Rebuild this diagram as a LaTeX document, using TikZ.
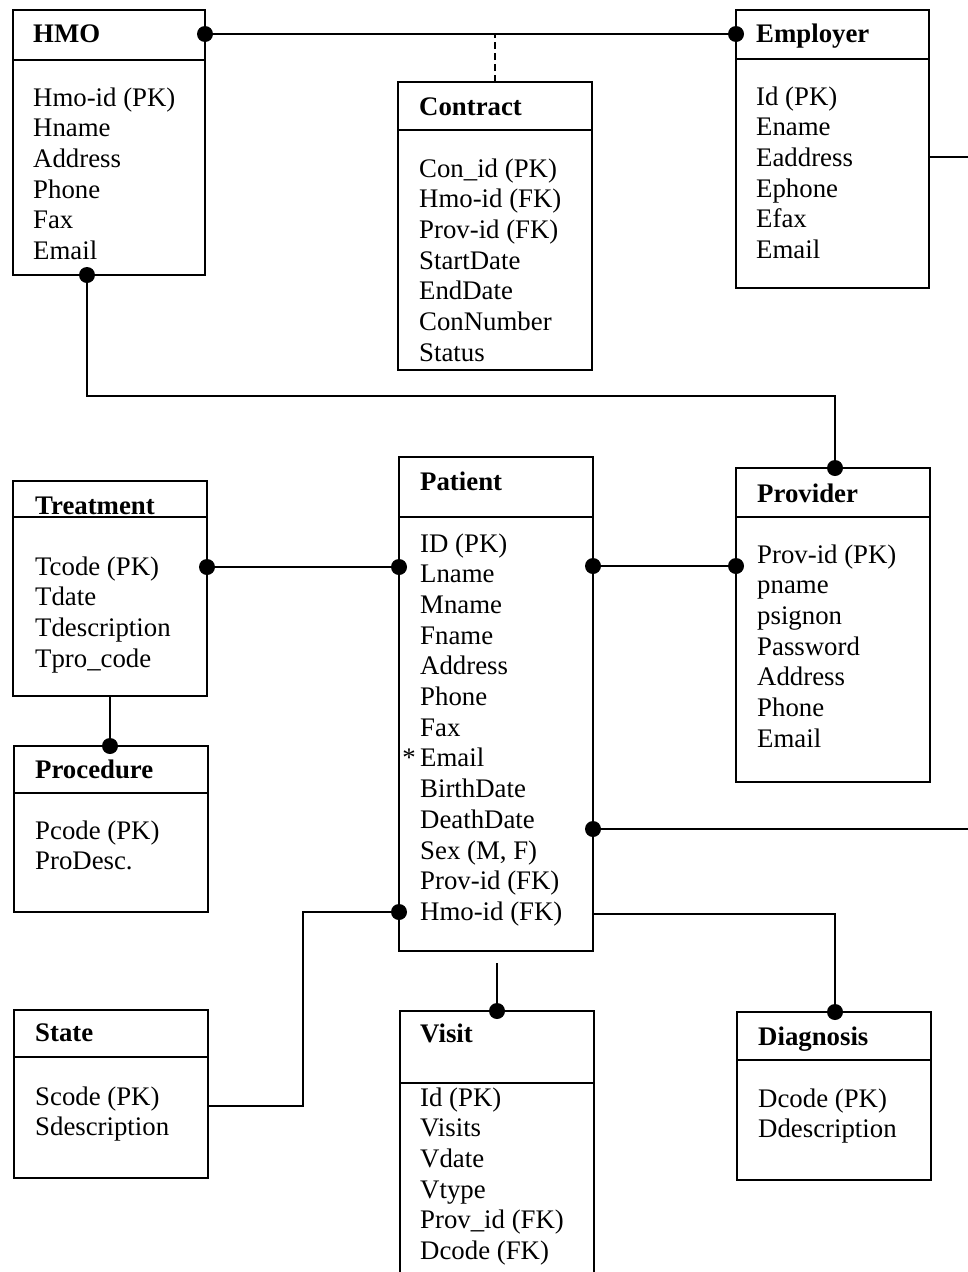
\documentclass[tikz,border=0pt]{standalone}
\usepackage{fontspec}
\setmainfont{Liberation Serif}
\begin{document}
\begin{tikzpicture}[x=1pt,y=-1pt,
  box/.style={draw, line width=1.5pt, anchor=north west, inner sep=0pt, outer sep=0pt},
  ttl/.style={anchor=base west, inner sep=0pt, font=\fontsize{26.8}{30}\selectfont\bfseries},
  attr/.style={anchor=base west, inner sep=0pt, font=\fontsize{26.8}{30}\selectfont},
  link/.style={line width=1.5pt},
  dot/.style={fill=black},
  sepline/.style={line width=1.5pt}]

\clip (0,0) rectangle (968,1272);
\fill[white] (0,0) rectangle (968,1272);

% one line per attribute, fixed pitch
\newcommand\attrlist[4]{%
  \foreach \t [count=\i] in {#4}
    \node[attr] (#1-\i) at ({#2}, {#3+(\i-1)*30.7}) {\t};}

% ---------- HMO ----------
\node[box, minimum width=192pt, minimum height=265pt] (hmo) at (13,10) {};
\draw[sepline] ([yshift=-50pt]hmo.north west) -- ([yshift=-50pt]hmo.north east);
\node[ttl] (hmo-t) at (33,42) {HMO};
\attrlist{hmo}{33}{106}{Hmo-id (PK), Hname, Address, Phone, Fax, Email}

% ---------- Contract ----------
\node[box, minimum width=194pt, minimum height=288pt] (contract) at (398,82) {};
\draw[sepline] ([yshift=-48pt]contract.north west) -- ([yshift=-48pt]contract.north east);
\node[ttl] (contract-t) at (419,115) {Contract};
\attrlist{contract}{419}{177}{Con\_id (PK), Hmo-id (FK), Prov-id (FK), StartDate, EndDate, ConNumber, Status}

% ---------- Employer ----------
\node[box, minimum width=193pt, minimum height=278pt] (employer) at (736,10) {};
\draw[sepline] ([yshift=-49pt]employer.north west) -- ([yshift=-49pt]employer.north east);
\node[ttl] (employer-t) at (756,42) {Employer};
\attrlist{employer}{756}{105}{Id (PK), Ename, Eaddress, Ephone, Efax, Email}

% ---------- Patient ----------
\node[box, minimum width=194pt, minimum height=494pt] (patient) at (399,457) {};
\draw[sepline] ([yshift=-60pt]patient.north west) -- ([yshift=-60pt]patient.north east);
\node[ttl] (patient-t) at (420,490) {Patient};
\attrlist{patient}{420}{552}{ID (PK), Lname, Mname, Fname, Address, Phone, Fax, \llap{*\,}Email, BirthDate, DeathDate, {Sex (M, F)}, Prov-id (FK), Hmo-id (FK)}

% ---------- Provider ----------
\node[box, minimum width=194pt, minimum height=314pt] (provider) at (736,468) {};
\draw[sepline] ([yshift=-49pt]provider.north west) -- ([yshift=-49pt]provider.north east);
\node[ttl] (provider-t) at (757,502) {Provider};
\attrlist{provider}{757}{563}{Prov-id (PK), pname, psignon, Password, Address, Phone, Email}

% ---------- Treatment ----------
\node[box, minimum width=194pt, minimum height=215pt] (treatment) at (13,481) {};
\draw[sepline] ([yshift=-36pt]treatment.north west) -- ([yshift=-36pt]treatment.north east);
\node[ttl] (treatment-t) at (35,514) {Treatment};
\attrlist{treatment}{35}{575}{Tcode (PK), Tdate, Tdescription, Tpro\_code}

% ---------- Procedure ----------
\node[box, minimum width=194pt, minimum height=166pt] (procedure) at (14,746) {};
\draw[sepline] ([yshift=-47pt]procedure.north west) -- ([yshift=-47pt]procedure.north east);
\node[ttl] (procedure-t) at (35,778) {Procedure};
\attrlist{procedure}{35}{839}{Pcode (PK), ProDesc.}

% ---------- State ----------
\node[box, minimum width=194pt, minimum height=168pt] (state) at (14,1010) {};
\draw[sepline] ([yshift=-47pt]state.north west) -- ([yshift=-47pt]state.north east);
\node[ttl] (state-t) at (35,1041) {State};
\attrlist{state}{35}{1105}{Scode (PK), Sdescription}

% ---------- Visit (runs past the lower edge) ----------
\node[box, minimum width=194pt, minimum height=300pt] (visit) at (400,1011) {};
\draw[sepline] ([yshift=-72pt]visit.north west) -- ([yshift=-72pt]visit.north east);
\node[ttl] (visit-t) at (420,1042) {Visit};
\attrlist{visit}{420}{1106}{Id (PK), Visits, Vdate, Vtype, Prov\_id (FK), Dcode (FK)}

% ---------- Diagnosis ----------
\node[box, minimum width=194pt, minimum height=168pt] (diagnosis) at (737,1012) {};
\draw[sepline] ([yshift=-48pt]diagnosis.north west) -- ([yshift=-48pt]diagnosis.north east);
\node[ttl] (diagnosis-t) at (758,1045) {Diagnosis};
\attrlist{diagnosis}{758}{1107}{Dcode (PK), Ddescription}

% ---------- connection points ----------
\coordinate (hmoR)  at ([yshift=-24pt]hmo.north east);
\coordinate (empL)  at ([yshift=-24pt]employer.north west);
\coordinate (conT)  at (contract.north);
\coordinate (hmoB)  at ([xshift=74pt]hmo.south west);
\coordinate (provT) at ([xshift=99pt]provider.north west);
\coordinate (empR)  at ([yshift=-147pt]employer.north east);
\coordinate (edgeA) at (968,157);
\coordinate (treR)  at ([yshift=-86pt]treatment.north east);
\coordinate (patL)  at ([yshift=-110pt]patient.north west);
\coordinate (patR)  at ([yshift=-109pt]patient.north east);
\coordinate (provL) at ([yshift=-98pt]provider.north west);
\coordinate (treB)  at ([xshift=97pt]treatment.south west);
\coordinate (procT) at ([xshift=96pt]procedure.north west);
\coordinate (patRb) at ([yshift=-372pt]patient.north east);
\coordinate (edgeB) at (968,829);
\coordinate (patLb) at ([yshift=-455pt]patient.north west);
\coordinate (staR)  at ([yshift=-96pt]state.north east);
\coordinate (patRc) at ([yshift=-457pt]patient.north east);
\coordinate (diaT)  at ([xshift=98pt]diagnosis.north west);
\coordinate (visT)  at ([xshift=97pt]visit.north west);
\coordinate (visE)  at ([yshift=48pt]visT);

% ---------- connectors ----------
\draw[link] (hmoR) -- (empL);
\draw[link, dash pattern=on 7pt off 4pt] (conT) -- (conT |- hmoR);
\draw[link] (hmoB) -- ++(0,121) -| (provT);
\draw[link] (empR) -- (edgeA);
\draw[link] (treR) -- (patL);
\draw[link] (patR) -- (provL);
\draw[link] (treB) -- (procT);
\draw[link] (patRb) -- (edgeB);
\draw[link] (patLb) -- ++(-96,0) |- (staR);
\draw[link] (patRc) -| (diaT);
\draw[link] (visE) -- (visT);

% ---------- relationship dots ----------
\foreach \p in {hmoR, empL, hmoB, provT, treR, patL, patR, provL, procT, patRb, patLb, diaT, visT}
  \fill[dot] (\p) circle (8);
\end{tikzpicture}
\end{document}
